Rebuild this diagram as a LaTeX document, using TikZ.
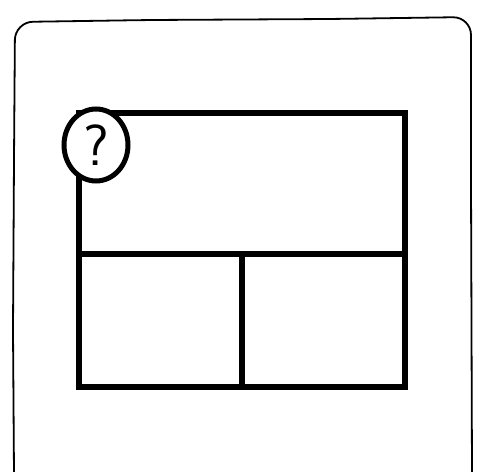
\documentclass[tikz,border=0pt]{standalone}
\usepackage{tikz}
\usetikzlibrary{positioning,shapes.geometric}

\begin{document}
\begin{tikzpicture}[
        x=1pt, y=-1pt,
        frame/.style={draw, line width=1.8pt, rounded corners=18pt},
        panel/.style={draw, line width=5.5pt, inner sep=0pt, outer sep=0pt},
        badge/.style={ellipse, draw, fill=white, line width=5pt, inner sep=0pt, minimum width=64pt, minimum height=72pt}
    ]
        \useasboundingbox (0,0) rectangle (483,472);
        % hand drawn frame, bottom edge cut off
        \draw[frame] (14,474) -- (13,330) -- (14,160) -- (15,22) -- (150,20) -- (330,19) -- (471,17) -- (471,180) -- (472,474);

        \node[panel, anchor=north west, minimum width=326pt, minimum height=141pt] (top) at (79,113) {};
        \node[panel, below right=0pt and 0pt of top.south west, minimum width=163pt, minimum height=133pt] (left) {};
        \node[panel, below left=0pt and 0pt of top.south east, minimum width=163pt, minimum height=133pt] (right) {};

        \node[badge, font=\sffamily\fontsize{58}{58}\selectfont] (help) at (96,145) {?};
    \end{tikzpicture}
\end{document}
